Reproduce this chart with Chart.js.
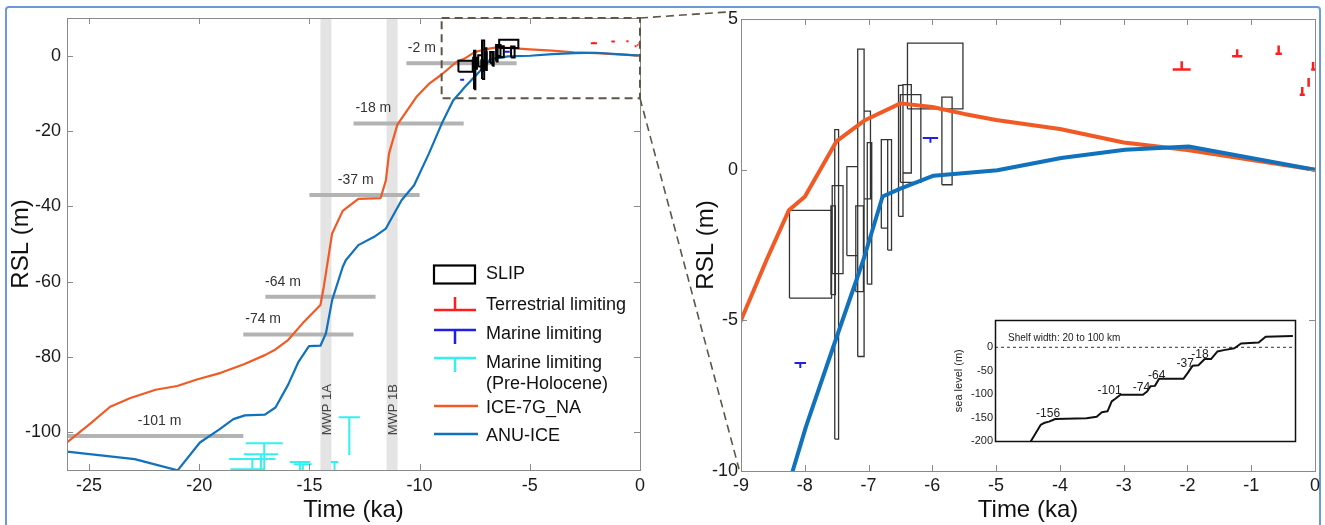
<!DOCTYPE html>
<html lang="en">
<head>
<meta charset="utf-8">
<title>Relative sea level</title>
<script src="https://cdn.jsdelivr.net/npm/chart.js@4.4.1/dist/chart.umd.min.js"></script>
<style>
  html, body { margin: 0; padding: 0; background: #fff; }
  #page { position: relative; width: 1325px; height: 525px; overflow: hidden; background: #fff; }
  #page canvas { position: absolute; }
  #border { position: absolute; left: 5px; top: 6px; width: 1316px; height: 540px; border: 2px solid #6b9bd6; border-radius: 4px; box-sizing: border-box; }
</style>
</head>
<body>
<div id="page">
  <div id="border"></div>
  <canvas id="full" width="660" height="525" style="left:0;top:0"></canvas>
  <canvas id="zoom" width="645" height="525" style="left:680px;top:0"></canvas>
  <canvas id="shelf" width="370" height="140" style="left:930px;top:310px"></canvas>
  <canvas id="links" width="1325" height="525" style="left:0;top:0;pointer-events:none"></canvas>
</div>
<script>
// model curves: time (ka) vs relative sea level (m)
const iceAge = [-26, -24.93, -24.04, -23.12, -21.98, -21.0, -20.07, -19.02, -17.97, -17.02, -16.54, -15.97, -15.3, -14.5, -14.35, -14.16, -13.97, -13.49, -12.78, -11.77, -11.53, -11.39, -11.01, -10.15, -9.58, -9.0, -8.6, -8.25, -8.0, -7.5, -7.05, -6.5, -6.0, -5.5, -5.0, -4.0, -3.0, -2.0, 0];
const iceRsl = [-102.7, -97.6, -93.2, -90.9, -88.7, -87.7, -85.9, -84.2, -81.9, -79.5, -78, -75.5, -71, -66.2, -61.4, -54.3, -47.2, -41.2, -38.0, -37.8, -33.1, -26, -18.3, -11, -7.5, -5.0, -3.0, -1.35, -0.9, 0.95, 1.65, 2.2, 2.08, 1.85, 1.65, 1.35, 0.9, 0.65, 0];
const anuAge = [-26, -22.93, -20.98, -19.97, -19.1, -18.45, -17.93, -17.02, -16.54, -15.97, -15.49, -15.02, -14.5, -14.25, -13.97, -13.49, -13.35, -12.78, -12.06, -11.53, -10.82, -10.25, -9.58, -9.0, -8.48, -8.19, -7.98, -7.55, -7.08, -6.78, -6.51, -5.98, -4.98, -3.98, -2.98, -1.98, 0];
const anuRsl = [-105.1, -107.1, -110.1, -102.7, -99.3, -96.5, -95.5, -95.3, -93.4, -87.4, -81.2, -77.1, -77, -73.7, -64.9, -56.1, -54.3, -50.3, -48.1, -45.9, -38.4, -34.4, -26, -18.1, -11.9, -10, -8.52, -5.86, -2.99, -0.89, -0.64, -0.2, -0.02, 0.39, 0.66, 0.77, 0];

// sea-level index points (age span x RSL span)
const slipAgeMin = [-6.39, -6.46, -6.5, -5.85, -7.17, -7.07, -6.8, -6.7, -7.34, -7.53, -7.57, -8.24, -7.59, -7.2, -7.02, -6.53];
const slipAgeMax = [-5.52, -6.33, -6.18, -5.69, -7.07, -6.97, -6.7, -6.64, -7.17, -7.47, -7.4, -7.58, -7.52, -7.08, -6.95, -6.46];
const slipRslMin = [2.02, -0.11, -0.42, -0.5, -6.2, -0.97, -1.94, -2.67, -2.85, -8.94, -3.45, -4.26, -4.15, -4.05, -3.8, -1.55];
const slipRslMax = [4.2, 2.82, 2.49, 2.41, 4.0, 1.94, 1.0, 1.0, 0.1, 1.33, -0.53, -1.35, -1.2, -1.2, 0.9, 2.8];

// terrestrial limiting (sea level below): bar at rsl, stem up to top
const terrAge = [-2.09, -1.22, -0.57, -0.2, -0.1, -0.03];
const terrHalf = [0.14, 0.08, 0.05, 0.04, 0.02, 0.03];
const terrRsl = [3.32, 3.76, 3.85, 2.49, 2.79, 3.32];
const terrTop = [3.6, 4.0, 4.12, 2.74, 3.04, 3.57];

// marine limiting (sea level above): bar at rsl, stem down to low
const marAge = [-8.07, -6.03];
const marHalf = [0.09, 0.12];
const marRsl = [-6.42, 1.05];
const marLow = [-6.58, 0.89];

const preAge = [-17.05, -17.2, -17.59, -17.8, -15.43, -15.3, -13.86, -13.19];
const preHalf = [0.84, 0.78, 1.05, 0.78, 0.46, 0.4, 0.17, 0.48];
const preRsl = [-102.9, -105.8, -107.1, -109.8, -107.9, -108.5, -107.9, -96.0];
const preLow = [-112, -112, -112, -112, -112, -112, -112, -106];

// shelf break levels
const shelfLevel = [-2, -18, -37, -64, -74, -101];
const shelfStart = [-10.6, -13, -15, -17, -18, -26];
const shelfEnd = [-5.6, -8, -10, -12, -13, -18];
const shelfLabelAge = [-9.9, -12.1, -12.9, -16.2, -17.1, -21.8];

// meltwater pulses
const mwpNames = ['MWP 1A', 'MWP 1B'];
const mwpStart = [-14.5, -11.5];
const mwpEnd = [-14.0, -11.0];
const mwpLabelRsl = -94;

// region enlarged in the right panel
const zoomAge = [-9, 0];
const zoomRsl = [-11.3, 10];

const fullXTicks = [-25, -20, -15, -10, -5, 0];
const fullYTicks = [-100, -80, -60, -40, -20, 0];
const zoomXTicks = [-9, -8, -7, -6, -5, -4, -3, -2, -1, 0];
const zoomYTicks = [-10, -5, 0, 5];

// inset: sea level across the shelf
const stairX = [11.9, 15.2, 16.3, 18.0, 20.1, 30.5, 33.9, 35.6, 37.5, 38.9, 40.0, 41.8, 49.3, 50.7, 51.8, 53.3, 54.7, 62.8, 64.2, 65.9, 67.8, 69.9, 72.0, 74.1, 76.3, 79.8, 82.0, 87.9, 90.2, 99.3];
const stairSea = [-200, -165, -161, -158, -152.5, -151, -147.5, -138, -136, -115, -110, -101, -101, -94, -83, -82, -67, -67, -55, -39, -38, -25, -25, -9, -6, -2, 8, 10, 22.5, 24];
const stepNames = ['-156', '-101', '-74', '-64', '-37', '-18'];
const stepX = [17.7, 38.2, 48.8, 53.9, 63.4, 68.3];
const stepY = [-141, -91.5, -85.2, -60.8, -33.8, -14.8];
const zeroX = [0, 100];
const zeroY = [0, 0];
const insetYTicks = [-200, -150, -100, -50, 0];

const FONT = "'Liberation Sans', Arial, Helvetica, sans-serif";
const ORANGE = '#f15a24';
const BLUE = '#1071bd';
const RED = '#ff1e1e';
const NAVY = '#1f1fe6';
const CYAN = '#35f0f0';

Chart.defaults.font.family = FONT;
Chart.defaults.color = '#1a1a1a';
Chart.defaults.animation = false;
Chart.defaults.events = [];
Chart.defaults.plugins.legend.display = false;
Chart.defaults.plugins.tooltip.enabled = false;
Chart.defaults.elements.point.radius = 0;
Chart.defaults.elements.point.hoverRadius = 0;
Chart.defaults.elements.line.tension = 0;

function series(xs, ys) {
    return xs.map((x, i) => ({ x, y: ys[i] }));
}

function rects(x0, x1, y0, y1) {
    const out = [];
    x0.forEach((a, i) => {
        out.push({ x: a, y: y0[i] }, { x: x1[i], y: y0[i] }, { x: x1[i], y: y1[i] },
                 { x: a, y: y1[i] }, { x: a, y: y0[i] }, { x: a, y: null });
    });
    return out;
}

// cross bar at `bar`, stem from the bar to `end`
function tees(age, half, bar, end) {
    const out = [];
    age.forEach((a, i) => {
        out.push({ x: a - half[i], y: bar[i] }, { x: a + half[i], y: bar[i] }, { x: a, y: null },
                 { x: a, y: bar[i] }, { x: a, y: end[i] }, { x: a, y: null });
    });
    return out;
}

function segments(x0, x1, y) {
    const out = [];
    x0.forEach((a, i) => out.push({ x: a, y: y[i] }, { x: x1[i], y: y[i] }, { x: x1[i], y: null }));
    return out;
}

function path(data, color, width, extra) {
    return Object.assign({
        data, borderColor: color, borderWidth: width, fill: false,
        borderCapStyle: 'butt', borderJoinStyle: 'miter', spanGaps: false
    }, extra || {});
}

const fixedTicks = values => scale => { scale.ticks = values.map(v => ({ value: v })); };

function axis(range, ticks, size, padding, title, fit) {
    return {
        type: 'linear', min: range[0], max: range[1],
        afterBuildTicks: fixedTicks(ticks),
        afterFit: fit,
        grid: { display: false, drawTicks: false },
        border: { display: false },
        ticks: { padding, font: { size }, color: '#1a1a1a', autoSkip: false, maxRotation: 0, callback: v => String(v) },
        title: title
    };
}

// box round the plot with inward tick marks on every side
const framePlugin = {
    id: 'frame',
    afterDatasetsDraw(chart, args, opts) {
        const { ctx, chartArea: a, scales: { x, y } } = chart;
        const L = opts.tick || 0;
        ctx.save();
        ctx.strokeStyle = opts.color;
        ctx.lineWidth = opts.width || 1;
        if (L) {
            ctx.beginPath();
            x.ticks.forEach(t => {
                const px = Math.round(x.getPixelForValue(t.value)) + 0.5;
                ctx.moveTo(px, a.bottom); ctx.lineTo(px, a.bottom - L);
                ctx.moveTo(px, a.top); ctx.lineTo(px, a.top + L);
            });
            y.ticks.forEach(t => {
                const py = Math.round(y.getPixelForValue(t.value)) + 0.5;
                ctx.moveTo(a.left, py); ctx.lineTo(a.left + L, py);
                ctx.moveTo(a.right, py); ctx.lineTo(a.right - L, py);
            });
            ctx.stroke();
        }
        ctx.strokeRect(Math.round(a.left) + 0.5, Math.round(a.top) + 0.5, Math.round(a.width), Math.round(a.height));
        ctx.restore();
    }
};

// meltwater pulse bands behind the data
const bandPlugin = {
    id: 'bands',
    beforeDatasetsDraw(chart) {
        const { ctx, chartArea: a, scales: { x, y } } = chart;
        ctx.save();
        mwpNames.forEach((name, i) => {
            const x0 = x.getPixelForValue(mwpStart[i]);
            const x1 = x.getPixelForValue(mwpEnd[i]);
            ctx.fillStyle = '#e4e4e4';
            ctx.fillRect(x0, a.top, x1 - x0, a.height);
            ctx.translate((x0 + x1) / 2, y.getPixelForValue(mwpLabelRsl));
            ctx.rotate(-Math.PI / 2);
            ctx.fillStyle = '#444';
            ctx.font = `13px ${FONT}`;
            ctx.textAlign = 'center';
            ctx.textBaseline = 'middle';
            ctx.fillText(name, 0, 1);
            ctx.setTransform(1, 0, 0, 1, 0, 0);
        });
        ctx.restore();
    }
};

const shelfTextPlugin = {
    id: 'shelfText',
    afterDatasetsDraw(chart) {
        const { ctx, scales: { x, y } } = chart;
        ctx.save();
        ctx.font = `14px ${FONT}`;
        ctx.fillStyle = '#333';
        ctx.textAlign = 'center';
        ctx.textBaseline = 'middle';
        shelfLevel.forEach((v, i) => {
            ctx.fillText(v + ' m', x.getPixelForValue(shelfLabelAge[i]), y.getPixelForValue(v) - 15);
        });
        // dashed outline of the enlarged window
        const x0 = x.getPixelForValue(zoomAge[0]), x1 = x.getPixelForValue(zoomAge[1]);
        const y0 = y.getPixelForValue(zoomRsl[1]), y1 = y.getPixelForValue(zoomRsl[0]);
        ctx.strokeStyle = '#5e5746';
        ctx.lineWidth = 2;
        ctx.setLineDash([8, 5]);
        ctx.strokeRect(x0, y0, x1 - x0, y1 - y0);
        ctx.restore();
    }
};

const legendPlugin = {
    id: 'keyBox',
    afterDraw(chart) {
        const ctx = chart.ctx;
        const s0 = 434, s1 = 476, mid = 455, tx = 486;
        ctx.save();
        ctx.lineCap = 'butt';
        ctx.strokeStyle = '#000';
        ctx.lineWidth = 2.2;
        ctx.strokeRect(s0, 265.5, s1 - s0 - 1, 18);
        const stroke = (color, w, pts) => {
            ctx.strokeStyle = color; ctx.lineWidth = w;
            ctx.beginPath();
            for (let i = 0; i < pts.length; i += 4) { ctx.moveTo(pts[i], pts[i + 1]); ctx.lineTo(pts[i + 2], pts[i + 3]); }
            ctx.stroke();
        };
        stroke(RED, 2.5, [s0, 310, s1, 310, mid, 310, mid, 297]);
        stroke(NAVY, 2.5, [s0, 330, s1, 330, mid, 330, mid, 344]);
        stroke(CYAN, 2.5, [s0, 358, s1, 358, mid, 358, mid, 372]);
        stroke(ORANGE, 2.5, [s0, 406, s1 + 2, 406]);
        stroke(BLUE, 2.5, [s0, 434, s1 + 2, 434]);
        ctx.fillStyle = '#111';
        ctx.font = `18px ${FONT}`;
        ctx.textBaseline = 'middle';
        [['SLIP', 274], ['Terrestrial limiting', 305], ['Marine limiting', 334], ['Marine limiting', 363],
         ['(Pre-Holocene)', 384], ['ICE-7G_NA', 408], ['ANU-ICE', 436]].forEach(([t, yy]) => ctx.fillText(t, tx, yy));
        ctx.restore();
    }
};

const insetPlugin = {
    id: 'insetText',
    beforeDraw(chart) {
        const { ctx, chartArea: a } = chart;
        ctx.save();
        ctx.fillStyle = '#fff';
        ctx.fillRect(a.left, a.top, a.width, a.height);
        ctx.restore();
    },
    afterDraw(chart) {
        const { ctx, chartArea: a, scales: { x, y } } = chart;
        ctx.save();
        ctx.fillStyle = '#222';
        ctx.textBaseline = 'middle';
        ctx.font = `10px ${FONT}`;
        ctx.fillText('Shelf width: 20 to 100 km', a.left + 13, a.top + 18);
        ctx.font = `12px ${FONT}`;
        ctx.textAlign = 'center';
        stepNames.forEach((t, i) => ctx.fillText(t, x.getPixelForValue(stepX[i]), y.getPixelForValue(stepY[i])));
        ctx.restore();
    }
};

const fullChart = new Chart(document.getElementById('full'), {
    type: 'line',
    data: {
        datasets: [
            path(rects(slipAgeMin, slipAgeMax, slipRslMin, slipRslMax), '#000', 2),
            path(tees(terrAge, terrHalf, terrRsl, terrTop), RED, 2),
            path(tees(marAge, marHalf, marRsl, marLow), NAVY, 2),
            path(series(anuAge, anuRsl), BLUE, 2.2, { borderJoinStyle: 'round' }),
            path(series(iceAge, iceRsl), ORANGE, 2.2, { borderJoinStyle: 'round' }),
            path(tees(preAge, preHalf, preRsl, preLow), CYAN, 2),
            path(segments(shelfStart, shelfEnd, shelfLevel), '#b3b3b3', 4)
        ]
    },
    options: {
        responsive: false,
        devicePixelRatio: 1,
        layout: { padding: { left: 0, right: 20, top: 18, bottom: 0 } },
        scales: {
            x: axis([-26, 0], fullXTicks, 18, 5,
                { display: true, text: 'Time (ka)', font: { size: 24 }, color: '#111', padding: { top: 0, bottom: 0 } },
                s => { s.height = 55; }),
            y: axis([-110, 10], fullYTicks, 18, 6,
                { display: true, text: 'RSL (m)', font: { size: 24 }, color: '#111', padding: { top: 7, bottom: 0 } },
                s => { s.width = 67; })
        },
        plugins: { frame: { color: '#8a8a8a', tick: 6 } }
    },
    plugins: [bandPlugin, framePlugin, shelfTextPlugin, legendPlugin]
});

const zoomChart = new Chart(document.getElementById('zoom'), {
    type: 'line',
    data: {
        datasets: [
            path(tees(terrAge, terrHalf, terrRsl, terrTop), RED, 2.5),
            path(tees(marAge, marHalf, marRsl, marLow), NAVY, 2),
            path(series(anuAge, anuRsl), BLUE, 4, { borderJoinStyle: 'round' }),
            path(series(iceAge, iceRsl), ORANGE, 4, { borderJoinStyle: 'round' }),
            path(rects(slipAgeMin, slipAgeMax, slipRslMin, slipRslMax), '#333', 1.3)
        ]
    },
    options: {
        responsive: false,
        devicePixelRatio: 1,
        layout: { padding: { left: 8, right: 10, top: 19, bottom: 0 } },
        scales: {
            x: axis([-9, 0], zoomXTicks, 18, 4,
                { display: true, text: 'Time (ka)', font: { size: 24 }, color: '#111', padding: { top: 0, bottom: 0 } },
                s => { s.height = 54; }),
            y: axis([-10, 5], zoomYTicks, 18, 3,
                { display: true, text: 'RSL (m)', font: { size: 24 }, color: '#111', padding: { top: 4, bottom: 0 } },
                s => { s.width = 53; })
        },
        plugins: { frame: { color: '#8a8a8a', tick: 6 } }
    },
    plugins: [framePlugin]
});

const shelfChart = new Chart(document.getElementById('shelf'), {
    type: 'line',
    data: {
        datasets: [
            path(series(stairX, stairSea), '#111', 2, { borderJoinStyle: 'round' }),
            path(series(zeroX, zeroY), '#333', 1, { borderDash: [3, 3] })
        ]
    },
    options: {
        responsive: false,
        devicePixelRatio: 1,
        layout: { padding: { left: 20, right: 5, top: 10, bottom: 8 } },
        scales: {
            x: { type: 'linear', min: 0, max: 100, display: false },
            y: axis([-200, 58], insetYTicks, 11, 2,
                { display: true, text: 'sea level (m)', font: { size: 11 }, color: '#222', padding: { top: 2, bottom: 0 } },
                s => { s.width = 45; })
        },
        plugins: { frame: { color: '#111', width: 1.5 } }
    },
    plugins: [insetPlugin, framePlugin]
});

// dashed guide lines from the window to the enlarged panel
(function drawLinks() {
    const ctx = document.getElementById('links').getContext('2d');
    const fx = fullChart.scales.x, fy = fullChart.scales.y;
    const za = zoomChart.chartArea;
    const off = 680;
    const xr = fx.getPixelForValue(zoomAge[1]);
    ctx.strokeStyle = '#5e5746';
    ctx.lineWidth = 1.6;
    ctx.setLineDash([8, 5]);
    ctx.beginPath();
    ctx.moveTo(xr, fy.getPixelForValue(zoomRsl[1]));
    ctx.lineTo(off + za.left - 14, za.top - 7);
    ctx.moveTo(xr, fy.getPixelForValue(zoomRsl[0]));
    ctx.lineTo(off + za.left - 2, za.bottom - 2);
    ctx.stroke();
})();
</script>
</body>
</html>
